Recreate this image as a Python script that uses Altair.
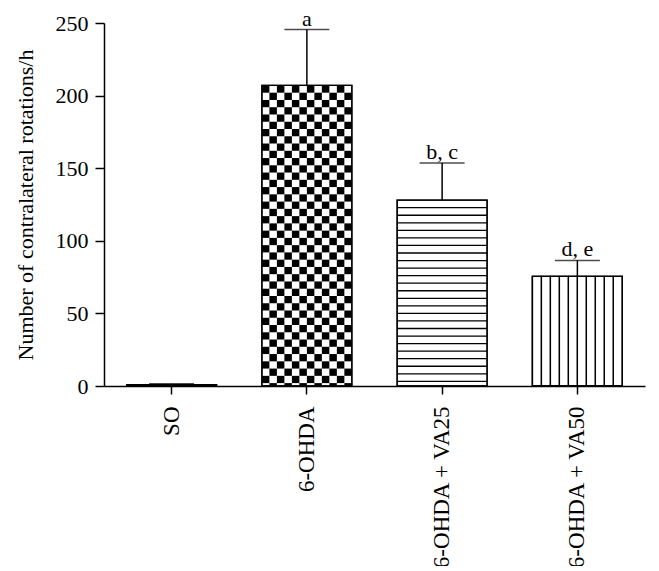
import altair as alt
import pandas as pd

categories = ["SO", "6-OHDA", "6-OHDA + VA25", "6-OHDA + VA50"]
means = [1.0, 207.0, 128.0, 75.5]
sems = [0.5, 38.5, 25.5, 11.0]
letters = ["", "a", "b, c", "d, e"]
patterns = ["plain", "checker", "hlines", "vlines"]

FONT = "Liberation Serif"

bars = pd.DataFrame({"cat": categories, "mean": means, "sem": sems,
                     "letter": letters, "pattern": patterns})
bars["top"] = bars["mean"] + bars["sem"]

# checkerboard cells for the 6-OHDA bar
cell_rows = []
m = means[patterns.index("checker")]
cat = categories[patterns.index("checker")]
k = 0
while m - 5.0 * k > 0:
    ytop = m - 5.0 * k
    ybot = max(0.0, m - 5.0 * (k + 1))
    for c in range(12):
        if (k + c) % 2 == 0:
            cell_rows.append({"cat": cat, "col": c, "y": ytop, "y2": ybot})
    k += 1
checker = pd.DataFrame(cell_rows)

# horizontal lines for VA25 bar
hl = []
m = means[patterns.index("hlines")]
cat = categories[patterns.index("hlines")]
k = 1
while m - 5.2 * k > 0.5:
    hl.append({"cat": cat, "y": m - 5.2 * k})
    k += 1
hlines = pd.DataFrame(hl)

# vertical stripes for VA50 bar
m = means[patterns.index("vlines")]
cat = categories[patterns.index("vlines")]
vlines = pd.DataFrame({"cat": [cat] * 10, "col": list(range(10)), "y": [m] * 10, "y2": [0.0] * 10})

xscale = alt.Scale(domain=categories, paddingInner=0.335, paddingOuter=0.1675)
yscale = alt.Scale(domain=[0, 250], nice=False)

xenc = alt.X("cat:N", scale=xscale, sort=categories,
             axis=alt.Axis(title=None, labelAngle=-90, tickSize=8, labelPadding=12,
                           labelFont=FONT, labelFontSize=23, labelColor="black",
                           domainColor="black", tickColor="black", domainWidth=1.5,
                           tickWidth=1.5, labelLimit=400))
yaxis = alt.Axis(title="Number of contralateral rotations/h", values=[0, 50, 100, 150, 200, 250],
                 tickSize=9, labelPadding=7, labelFont=FONT, labelFontSize=22,
                 labelColor="black", titleFont=FONT, titleFontSize=22,
                 titleFontWeight="normal", titleColor="black", titlePadding=18,
                 domainColor="black", tickColor="black", domainWidth=1.5, tickWidth=1.5,
                 grid=False)

base_bar = alt.Chart(bars).mark_bar(fill="white", stroke="black", strokeWidth=1.3).encode(
    x=xenc, y=alt.Y("mean:Q", scale=yscale, axis=yaxis))

check = alt.Chart(checker).mark_rect(fill="black").encode(
    x=alt.X("cat:N", scale=xscale, sort=categories),
    xOffset=alt.XOffset("col:O", scale=alt.Scale(paddingInner=0, paddingOuter=0)),
    y=alt.Y("y:Q", scale=yscale), y2="y2:Q")

hline = alt.Chart(hlines).mark_rect(fill="black", stroke="black", strokeWidth=1.3).encode(
    x=alt.X("cat:N", scale=xscale, sort=categories),
    y=alt.Y("y:Q", scale=yscale), y2="y:Q")

vline = alt.Chart(vlines).mark_rect(fillOpacity=0, stroke="black", strokeWidth=1.3).encode(
    x=alt.X("cat:N", scale=xscale, sort=categories),
    xOffset=alt.XOffset("col:O", scale=alt.Scale(paddingInner=0, paddingOuter=0)),
    y=alt.Y("y:Q", scale=yscale), y2="y2:Q")

outline = alt.Chart(bars).mark_bar(fillOpacity=0, stroke="black", strokeWidth=1.3).encode(
    x=alt.X("cat:N", scale=xscale, sort=categories),
    y=alt.Y("mean:Q", scale=yscale))

err = alt.Chart(bars).mark_rule(color="black", strokeWidth=1.5).encode(
    x=alt.X("cat:N", scale=xscale, sort=categories),
    y=alt.Y("mean:Q", scale=yscale), y2="top:Q")

cap = alt.Chart(bars).mark_tick(color="black", size=45, thickness=1.5, orient="horizontal").encode(
    x=alt.X("cat:N", scale=xscale, sort=categories),
    y=alt.Y("top:Q", scale=yscale))

txt = alt.Chart(bars).mark_text(font=FONT, fontSize=22, color="black", baseline="alphabetic", dy=-4).encode(
    x=alt.X("cat:N", scale=xscale, sort=categories),
    y=alt.Y("top:Q", scale=yscale), text="letter:N")

chart = alt.layer(base_bar, check, hline, vline, outline, err, cap, txt).resolve_scale(
    xOffset="independent"
).properties(
    width=541, height=363,
    autosize=alt.AutoSizeParams(type="none"),
    padding={"left": 96, "top": 15, "right": 6, "bottom": 180},
).configure_view(stroke=None)

chart.save("out.html", embed_options={"renderer": "svg", "actions": False})
